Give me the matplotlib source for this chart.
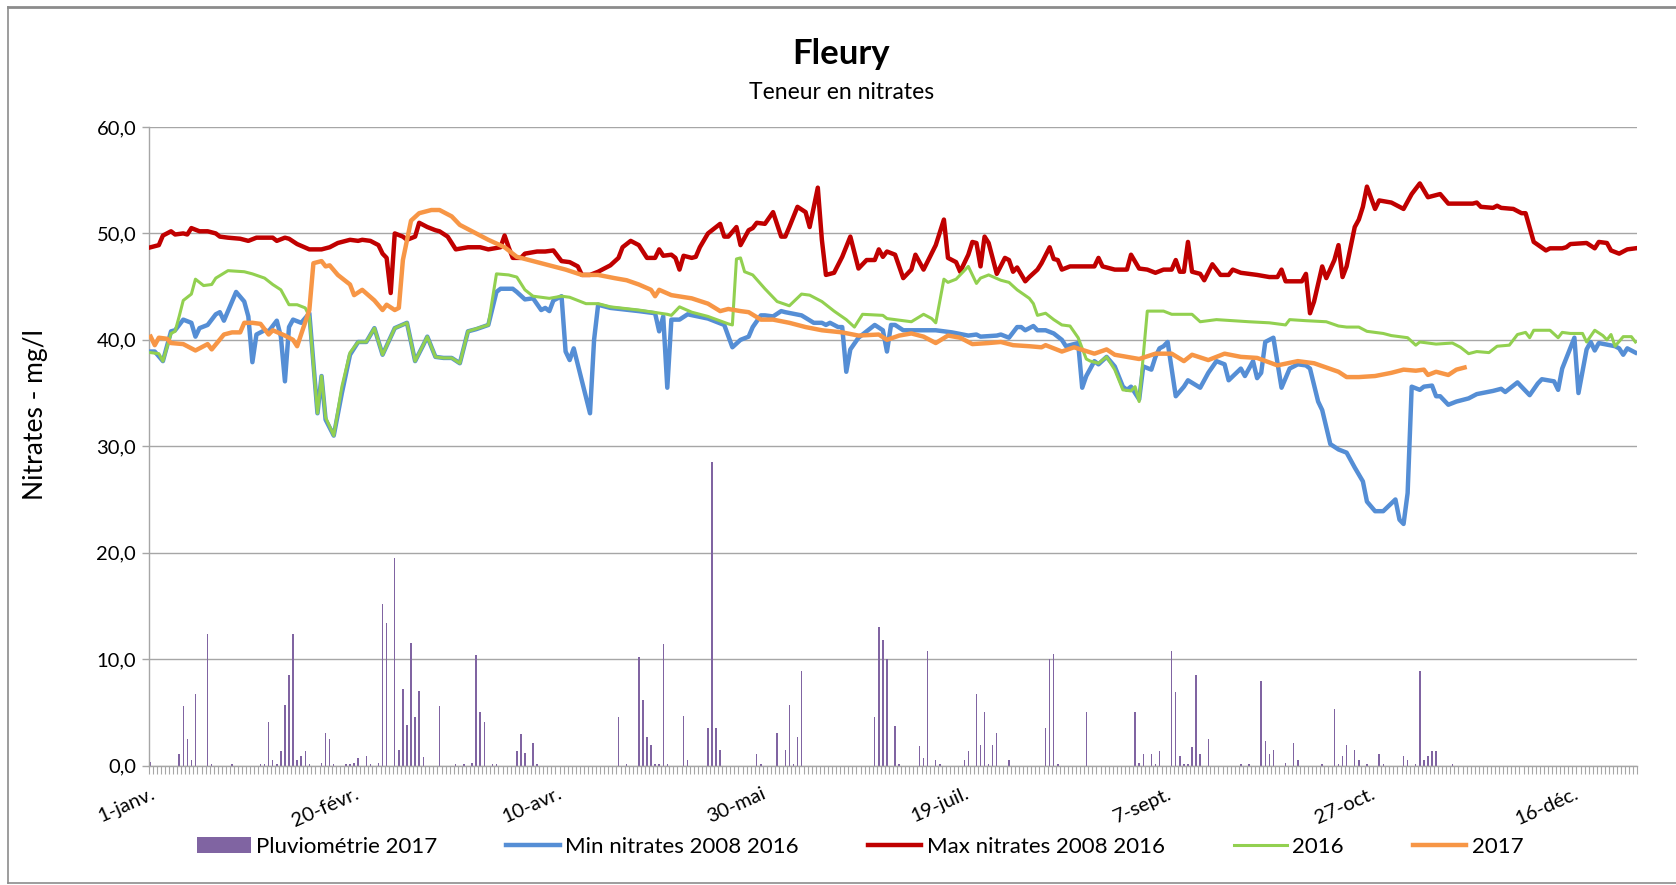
import matplotlib
matplotlib.use("Agg")
import matplotlib.pyplot as plt
from matplotlib.ticker import FuncFormatter, FixedLocator
from matplotlib.patches import Patch
from matplotlib.lines import Line2D

plt.rcParams['font.family'] = ['Lato', 'DejaVu Sans']

# day index 0 = 1 janvier (366 jours)
date_labels = ['1-janv.', '20-févr.', '10-avr.', '30-mai', '19-juil.', '7-sept.', '27-oct.', '16-déc.']
label_days = [0, 50, 100, 150, 200, 250, 300, 350]

# Pluviométrie 2017 (mm)
rain_days = [0, 7, 8, 9, 10, 11, 14, 15, 20, 27, 28, 29, 30, 31, 32, 33, 34, 35, 36, 37, 38, 39,
             42, 43, 44, 45, 48, 49, 50, 51, 53, 54, 56, 57, 58, 60, 61, 62, 63, 64, 65, 66, 67,
             71, 75, 77, 79, 80, 81, 82, 84, 85, 90, 91, 92, 94, 95, 115, 117, 120, 121, 122,
             123, 124, 125, 126, 127, 131, 132, 137, 138, 139, 140, 149, 150, 154, 156, 157,
             158, 159, 160, 178, 179, 180, 181, 183, 184, 189, 190, 191, 193, 194, 200, 201,
             203, 204, 205, 206, 207, 208, 211, 220, 221, 222, 223, 230, 242, 243, 244, 246,
             247, 248, 251, 252, 253, 254, 255, 256, 257, 258, 260, 268, 270, 273, 274, 275,
             276, 279, 281, 282, 288, 291, 292, 293, 294, 296, 297, 299, 302, 303, 308, 309,
             311, 312, 313, 314, 315, 316, 320]
rain_vals = [0.3, 1.1, 5.6, 2.5, 0.5, 6.7, 12.4, 0.15, 0.15, 0.1, 0.1, 4.1, 0.5, 0.15, 1.35, 5.7,
             8.55, 12.4, 0.5, 0.9, 1.35, 0.15, 0.25, 3.1, 2.5, 0.15, 0.1, 0.1, 0.25, 0.7, 0.9, 0.1,
             0.25, 15.2, 13.4, 19.5, 1.5, 7.2, 3.8, 11.5, 4.6, 7.0, 0.8, 5.6, 0.1, 0.1, 0.25, 10.4,
             5.0, 4.1, 0.15, 0.15, 1.4, 3.0, 1.15, 2.1, 0.1, 4.6, 0.1, 10.2, 6.2, 2.7, 1.9, 0.15,
             0.15, 11.4, 0.1, 4.7, 0.5, 3.5, 28.5, 3.5, 1.5, 1.1, 0.15, 3.1, 1.5, 5.7, 0.1, 2.7,
             8.9, 4.6, 13.0, 11.8, 10.0, 3.7, 0.15, 1.8, 0.7, 10.8, 0.5, 0.1, 0.5, 1.35, 6.7, 1.9,
             5.0, 0.1, 1.9, 3.1, 0.5, 3.5, 10.0, 10.5, 0.15, 5.0, 5.0, 0.25, 1.1, 1.1, 0.1, 1.35,
             10.8, 6.9, 0.9, 0.1, 0.1, 1.7, 8.55, 1.1, 2.5, 0.1, 0.15, 7.9, 2.35, 1.1, 1.5, 0.25,
             2.1, 0.5, 0.1, 5.35, 0.15, 0.9, 1.9, 1.5, 0.5, 0.1, 1.1, 0.1, 0.9, 0.5, 0.15, 8.9,
             0.5, 0.9, 1.35, 1.35, 0.15]

# Min nitrates 2008 2016
min_days = [0, 1, 3, 5, 6, 8, 10, 11, 12, 14, 16, 17, 18, 21, 23, 24, 25, 26, 28, 29, 31, 32, 33,
            34, 35, 37, 39, 41, 42, 43, 45, 47, 49, 51, 53, 55, 57, 60, 63, 65, 67, 68, 70, 72,
            74, 76, 78, 80, 83, 85, 86, 89, 90, 92, 94, 96, 97, 98, 99, 101, 102, 103, 104, 108,
            109, 110, 113, 120, 124, 125, 126, 127, 128, 130, 132, 137, 141, 143, 145, 147, 148,
            150, 151, 153, 155, 156, 160, 163, 165, 166, 167, 169, 170, 171, 172, 174, 176, 178,
            180, 181, 182, 183, 185, 193, 197, 201, 203, 204, 208, 209, 211, 213, 214, 215, 217,
            218, 220, 222, 224, 225, 226, 228, 229, 230, 232, 233, 235, 237, 239, 240, 241, 243,
            244, 246, 247, 248, 249, 250, 252, 254, 255, 258, 260, 262, 264, 265, 268, 269, 271,
            272, 273, 274, 276, 278, 280, 282, 284, 285, 287, 288, 290, 292, 294, 296, 298, 299,
            301, 303, 306, 307, 308, 309, 310, 312, 313, 315, 316, 317, 319, 321, 324, 326, 330,
            332, 333, 336, 337, 339, 341, 342, 345, 346, 347, 350, 351, 353, 354, 355, 356, 360,
            361, 362, 363, 365]
min_vals = [38.9, 38.9, 38.0, 40.8, 40.9, 41.9, 41.6, 40.3, 41.1, 41.4, 42.4, 42.6, 41.8, 44.5,
            43.6, 42.2, 37.9, 40.5, 40.9, 40.8, 41.8, 40.3, 36.1, 41.2, 41.9, 41.6, 42.5, 33.1,
            36.6, 32.5, 31.0, 35.0, 38.6, 39.8, 39.8, 41.1, 38.6, 41.1, 41.6, 38.0, 39.5, 40.3,
            38.4, 38.3, 38.3, 37.8, 40.8, 41.0, 41.4, 44.5, 44.8, 44.8, 44.5, 43.8, 43.9, 42.8,
            43.0, 42.7, 43.7, 44.1, 38.9, 38.1, 39.2, 33.1, 40.0, 43.3, 43.0, 42.7, 42.5, 40.8,
            42.2, 35.5, 41.9, 41.9, 42.4, 42.0, 41.4, 39.3, 40.0, 40.3, 41.2, 42.3, 42.3, 42.2,
            42.7, 42.6, 42.3, 41.6, 41.6, 41.4, 41.6, 41.2, 41.2, 37.0, 39.1, 40.2, 40.8, 41.4,
            40.9, 38.9, 41.4, 41.4, 40.9, 40.9, 40.7, 40.4, 40.5, 40.3, 40.4, 40.5, 40.2, 41.2,
            41.2, 40.9, 41.3, 40.9, 40.9, 40.6, 40.0, 39.4, 39.5, 39.7, 35.5, 36.6, 38.0, 37.7,
            38.4, 37.5, 35.6, 35.3, 35.6, 34.4, 37.5, 37.2, 38.4, 39.2, 39.4, 39.8, 34.7, 35.6,
            36.2, 35.5, 36.9, 38.0, 37.7, 36.2, 37.3, 36.6, 38.0, 36.4, 36.9, 39.8, 40.2, 35.5,
            37.3, 37.7, 37.6, 37.3, 34.2, 33.4, 30.2, 29.7, 29.4, 28.0, 26.7, 24.8, 23.9, 23.9,
            25.0, 23.1, 22.7, 25.6, 35.6, 35.3, 35.6, 35.7, 34.7, 34.7, 33.9, 34.2, 34.5, 34.9,
            35.2, 35.4, 35.1, 36.0, 35.6, 34.8, 35.9, 36.3, 36.1, 35.3, 37.3, 40.2, 35.0, 39.1,
            39.8, 39.0, 39.7, 39.4, 39.2, 38.6, 39.2, 38.8]

# Max nitrates 2008 2016
max_days = [0, 2, 3, 5, 6, 8, 9, 10, 12, 14, 16, 17, 19, 22, 24, 26, 30, 31, 33, 34, 36, 39, 42,
            44, 46, 49, 51, 52, 54, 56, 57, 58, 59, 60, 62, 63, 65, 66, 68, 70, 71, 73, 75, 78,
            81, 83, 86, 87, 88, 89, 91, 92, 95, 97, 99, 101, 103, 105, 106, 108, 110, 113, 115,
            116, 118, 120, 122, 124, 125, 126, 128, 129, 130, 131, 133, 134, 135, 137, 140, 141,
            142, 144, 145, 147, 148, 149, 151, 153, 155, 156, 157, 159, 161, 162, 164, 165, 166,
            168, 170, 172, 174, 176, 178, 179, 180, 181, 183, 185, 187, 188, 190, 193, 195, 196,
            198, 199, 201, 202, 203, 204, 205, 206, 208, 210, 211, 212, 213, 215, 216, 218, 219,
            221, 222, 223, 224, 226, 232, 233, 234, 237, 240, 241, 243, 245, 247, 249, 251, 252,
            253, 254, 255, 256, 258, 259, 261, 263, 265, 266, 268, 272, 275, 277, 278, 279, 283,
            284, 285, 286, 288, 289, 291, 292, 293, 294, 296, 297, 298, 299, 301, 302, 305, 308,
            310, 312, 314, 317, 319, 325, 326, 327, 330, 331, 332, 335, 337, 338, 340, 343, 344,
            347, 348, 349, 353, 355, 356, 358, 359, 361, 363, 365]
max_vals = [48.7, 48.9, 49.8, 50.2, 49.9, 50.0, 49.9, 50.5, 50.2, 50.2, 50.0, 49.7, 49.6, 49.5,
            49.3, 49.6, 49.6, 49.3, 49.6, 49.5, 49.0, 48.5, 48.5, 48.7, 49.1, 49.4, 49.3, 49.4,
            49.3, 48.9, 48.1, 47.7, 44.4, 50.0, 49.7, 49.4, 49.7, 51.0, 50.6, 50.3, 50.2, 49.7,
            48.5, 48.7, 48.7, 48.5, 48.7, 49.8, 48.7, 47.7, 47.7, 48.1, 48.3, 48.3, 48.4, 47.4,
            47.3, 46.9, 46.1, 46.1, 46.4, 47.0, 47.7, 48.7, 49.3, 48.9, 47.7, 47.7, 48.5, 47.9,
            48.0, 47.7, 46.6, 47.9, 47.7, 47.8, 48.7, 50.0, 50.9, 49.7, 49.7, 50.6, 48.9, 50.3,
            50.5, 51.0, 50.9, 52.0, 49.7, 49.7, 50.6, 52.5, 52.0, 50.6, 54.3, 49.4, 46.1, 46.3,
            47.8, 49.7, 46.7, 47.5, 47.5, 48.5, 47.8, 48.3, 48.0, 45.8, 46.6, 48.0, 46.6, 48.9,
            51.3, 47.7, 47.3, 46.4, 48.0, 49.2, 49.1, 46.9, 49.7, 49.1, 46.2, 47.7, 47.5, 46.4,
            46.8, 45.5, 45.9, 46.6, 47.2, 48.7, 47.6, 47.5, 46.6, 46.9, 46.9, 47.7, 46.9, 46.6,
            46.6, 48.0, 46.7, 46.6, 46.3, 46.6, 46.6, 47.5, 46.4, 46.4, 49.2, 46.4, 46.2, 45.6,
            47.1, 46.1, 46.1, 46.6, 46.3, 46.1, 45.9, 45.9, 46.6, 45.5, 45.5, 46.2, 42.5, 43.6,
            46.9, 45.8, 47.5, 48.9, 45.9, 46.9, 50.6, 51.3, 52.5, 54.4, 52.3, 53.1, 52.9, 52.3,
            53.7, 54.7, 53.4, 53.7, 52.8, 52.8, 52.9, 52.5, 52.4, 52.6, 52.4, 52.3, 51.9, 51.9,
            49.2, 48.4, 48.6, 48.6, 48.7, 49.0, 49.1, 48.6, 49.2, 49.1, 48.4, 48.1, 48.5, 48.6]

# 2016
y2016_days = [0, 2, 3, 5, 6, 7, 8, 10, 11, 13, 15, 16, 19, 23, 25, 28, 30, 32, 34, 36, 38, 39, 41,
              42, 43, 45, 47, 49, 51, 53, 55, 57, 60, 63, 65, 68, 70, 72, 74, 76, 78, 83, 85, 88,
              90, 92, 94, 98, 101, 103, 107, 110, 113, 120, 127, 128, 130, 133, 137, 142, 143, 144,
              145, 146, 148, 151, 154, 157, 160, 162, 165, 168, 171, 173, 175, 180, 181, 187, 190,
              192, 193, 195, 196, 198, 201, 203, 204, 206, 209, 211, 213, 216, 217, 218, 220, 222,
              224, 226, 228, 230, 231, 233, 235, 237, 239, 241, 242, 243, 245, 249, 251, 256, 258,
              262, 270, 275, 279, 280, 284, 289, 292, 294, 297, 299, 303, 305, 309, 311, 312, 316,
              320, 322, 324, 326, 329, 331, 334, 336, 338, 339, 340, 344, 346, 347, 349, 352, 353,
              355, 357, 358, 359, 360, 362, 364, 365]
y2016_vals = [38.8, 38.7, 38.0, 40.6, 40.8, 42.2, 43.7, 44.3, 45.7, 45.1, 45.2, 45.8, 46.5, 46.4,
              46.2, 45.8, 45.2, 44.7, 43.3, 43.3, 43.0, 42.2, 33.1, 36.6, 32.7, 31.0, 35.6, 38.8,
              39.8, 39.8, 41.1, 38.6, 41.1, 41.6, 38.0, 40.3, 38.4, 38.3, 38.3, 37.8, 40.8, 41.4,
              46.2, 46.1, 45.9, 44.7, 44.1, 43.9, 44.1, 44.0, 43.4, 43.4, 43.1, 42.8, 42.4, 42.3,
              43.1, 42.6, 42.2, 41.5, 41.4, 47.6, 47.7, 46.4, 46.1, 44.8, 43.6, 43.2, 44.3, 44.2,
              43.6, 42.7, 41.9, 41.2, 42.4, 42.3, 42.0, 41.7, 42.4, 42.0, 41.6, 45.7, 45.4, 45.7,
              46.9, 45.3, 45.8, 46.1, 45.6, 45.4, 44.7, 43.9, 43.4, 42.3, 42.5, 41.9, 41.4, 41.3,
              40.2, 38.2, 38.0, 37.8, 38.4, 37.2, 35.3, 35.2, 35.6, 34.2, 42.7, 42.7, 42.4, 42.4,
              41.7, 41.9, 41.7, 41.6, 41.4, 41.9, 41.8, 41.7, 41.3, 41.2, 41.2, 40.8, 40.6, 40.4,
              40.2, 39.5, 39.8, 39.6, 39.7, 39.3, 38.7, 38.9, 38.8, 39.4, 39.5, 40.5, 40.7, 40.2,
              40.9, 40.9, 40.2, 40.7, 40.6, 40.6, 39.8, 40.9, 40.4, 40.0, 40.5, 39.4, 40.3, 40.3,
              39.8]

# 2017
y2017_days = [0, 1, 2, 4, 5, 8, 11, 14, 15, 18, 20, 22, 23, 25, 27, 29, 30, 33, 35, 36, 39, 40, 42,
              43, 44, 46, 49, 50, 52, 55, 57, 58, 60, 61, 62, 64, 66, 69, 71, 74, 76, 79, 83, 87,
              90, 94, 98, 102, 106, 110, 114, 117, 120, 123, 124, 125, 128, 133, 137, 140, 142,
              145, 147, 150, 153, 157, 161, 165, 170, 174, 179, 181, 184, 187, 190, 193, 196, 199,
              202, 206, 209, 212, 216, 219, 220, 224, 227, 232, 235, 237, 243, 247, 251, 254, 256,
              260, 264, 268, 272, 277, 282, 286, 289, 292, 294, 297, 301, 305, 308, 311, 313, 314,
              316, 319, 321, 323]
y2017_vals = [40.3, 39.5, 40.2, 40.1, 39.7, 39.6, 39.0, 39.6, 39.1, 40.5, 40.7, 40.7, 41.6, 41.6,
              41.5, 40.5, 40.9, 40.4, 40.0, 39.4, 42.8, 47.2, 47.4, 46.9, 47.0, 46.1, 45.2, 44.2,
              44.7, 43.7, 42.8, 43.3, 42.8, 43.0, 47.5, 51.2, 51.9, 52.2, 52.2, 51.6, 50.8, 50.2,
              49.4, 48.7, 47.8, 47.4, 47.0, 46.6, 46.1, 46.1, 45.8, 45.6, 45.2, 44.7, 44.1, 44.7,
              44.2, 43.9, 43.4, 42.7, 42.9, 42.7, 42.6, 41.9, 41.9, 41.6, 41.2, 40.9, 40.7, 40.4,
              40.5, 40.0, 40.4, 40.6, 40.3, 39.7, 40.4, 40.2, 39.6, 39.7, 39.8, 39.5, 39.4, 39.3,
              39.5, 38.9, 39.3, 38.7, 39.1, 38.6, 38.2, 38.7, 38.7, 38.0, 38.6, 38.1, 38.7, 38.4,
              38.3, 37.6, 38.0, 37.8, 37.4, 37.0, 36.5, 36.5, 36.6, 36.9, 37.2, 37.1, 37.2, 36.7,
              37.0, 36.7, 37.2, 37.4]

c_rain = '#8064A2'
c_min = '#558ED5'
c_max = '#C00000'
c_2016 = '#92D050'
c_2017 = '#F79646'
grid_c = '#A6A6A6'

fig = plt.figure(figsize=(16.76, 8.85), dpi=100)
ax = fig.add_axes([0.0887, 0.135, 0.8883, 0.7215])

ax.bar(rain_days, rain_vals, width=0.35, color=c_rain, linewidth=0, zorder=2)
ax.plot(min_days, min_vals, color=c_min, lw=3.2, zorder=3, solid_joinstyle='round')
ax.plot(max_days, max_vals, color=c_max, lw=3.2, zorder=4, solid_joinstyle='round')
ax.plot(y2016_days, y2016_vals, color=c_2016, lw=2.2, zorder=5, solid_joinstyle='round')
ax.plot(y2017_days, y2017_vals, color=c_2017, lw=3.2, zorder=6, solid_joinstyle='round')

ax.set_xlim(-0.5, 365.5)
ax.set_ylim(0, 60)
ax.set_yticks(range(0, 61, 10))
ax.yaxis.set_major_formatter(FuncFormatter(lambda v, p: f"{v:.1f}".replace('.', ',')))
ax.grid(axis='y', color=grid_c, lw=1.0, zorder=0)
ax.set_axisbelow(True)

ax.set_xticks(label_days)
ax.set_xticklabels(date_labels, rotation=24, ha='right', rotation_mode='anchor')
ax.xaxis.set_minor_locator(FixedLocator([k - 0.5 for k in range(367)]))
ax.tick_params(axis='x', which='major', length=0, pad=14, labelsize=14.5)
ax.tick_params(axis='x', which='minor', length=6, width=0.8, color=grid_c)
ax.tick_params(axis='y', length=5, width=1.0, color=grid_c, labelsize=14.5, pad=4)

for s in ['top', 'right']:
    ax.spines[s].set_visible(False)
ax.spines['left'].set_color(grid_c)
ax.spines['bottom'].set_color(grid_c)
ax.spines['left'].set_linewidth(1.0)
ax.spines['bottom'].set_linewidth(1.0)

ax.set_ylabel('Nitrates - mg/l', fontsize=19)
ax.yaxis.set_label_coords(-0.0676, 0.55)

fig.text(0.502, 0.9395, 'Fleury', ha='center', va='center', fontsize=25, fontweight='bold')
fig.text(0.502, 0.895, 'Teneur en nitrates', ha='center', va='center', fontsize=16.5)

handles = [Patch(facecolor=c_rain, edgecolor='none'),
           Line2D([], [], color=c_min, lw=3.2),
           Line2D([], [], color=c_max, lw=3.2),
           Line2D([], [], color=c_2016, lw=2.2),
           Line2D([], [], color=c_2017, lw=3.2)]
labels = ['Pluviométrie 2017', 'Min nitrates 2008 2016', 'Max nitrates 2008 2016', '2016', '2017']
fig.legend(handles, labels, loc='center', bbox_to_anchor=(0.5134, 0.0434), ncol=5,
           frameon=False, fontsize=16, handlelength=2.4, handletextpad=0.25,
           columnspacing=3.1)

# cadre du graphique
border = '#8C8C8C'
fig.add_artist(Line2D([8 / 1676, 1.0], [1 - 7 / 885, 1 - 7 / 885], color=border, lw=2.0,
                      transform=fig.transFigure))
fig.add_artist(Line2D([8 / 1676, 8 / 1676], [2 / 885, 1 - 7 / 885], color=border, lw=1.2,
                      transform=fig.transFigure))
fig.add_artist(Line2D([8 / 1676, 1.0], [2 / 885, 2 / 885], color=border, lw=1.2,
                      transform=fig.transFigure))

fig.savefig('out.png', dpi=100)
